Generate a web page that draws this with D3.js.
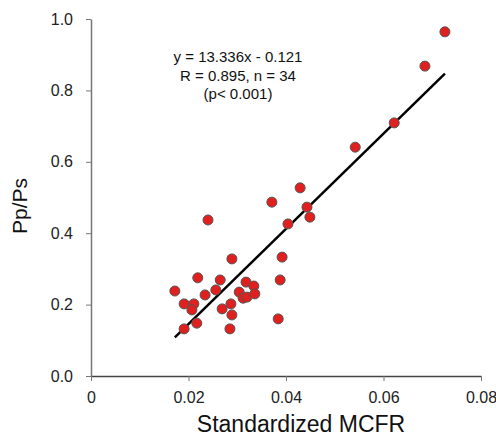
<!DOCTYPE html>
<html>
<head>
<meta charset="utf-8">
<script src="https://cdn.jsdelivr.net/npm/d3@7"></script>
<style>
  body { margin: 0; background: #fff; }
  svg { font-family: "Liberation Sans", Arial, sans-serif; }
</style>
</head>
<body>
<div id="chart"></div>
<script>
// data
var mcfr = [0.0289, 0.0219, 0.0265, 0.0172, 0.0234, 0.0256, 0.0318, 0.0334, 0.0304, 0.0312,
            0.0320, 0.0336, 0.0191, 0.0211, 0.0207, 0.0287, 0.0269, 0.0289, 0.0217, 0.0191,
            0.0285, 0.0429, 0.0371, 0.0443, 0.0449, 0.0404, 0.0392, 0.0240, 0.0388, 0.0384,
            0.0726, 0.0685, 0.0622, 0.0542];
var ppps = [0.328, 0.275, 0.269, 0.238, 0.227, 0.241, 0.263, 0.252, 0.235, 0.218,
            0.221, 0.230, 0.202, 0.202, 0.185, 0.202, 0.188, 0.171, 0.148, 0.132,
            0.132, 0.527, 0.487, 0.473, 0.445, 0.426, 0.333, 0.437, 0.269, 0.160,
            0.964, 0.868, 0.709, 0.641];
var xTicks = [0, 0.02, 0.04, 0.06, 0.08];
var xTickLabels = ["0", "0.02", "0.04", "0.06", "0.08"];
var yTicks = [0, 0.2, 0.4, 0.6, 0.8, 1.0];
var yTickLabels = ["0.0", "0.2", "0.4", "0.6", "0.8", "1.0"];
var slope = 13.336, intercept = -0.121;
var statLines = ["y = 13.336x - 0.121", "R = 0.895, n = 34", "(p< 0.001)"];

var width = 496, height = 438;
var margin = { left: 91, right: 15, top: 19, bottom: 62 };

var svg = d3.select("#chart").append("svg")
  .attr("width", width)
  .attr("height", height);

var x = d3.scaleLinear().domain([0, 0.08]).range([margin.left, width - margin.right]);
var y = d3.scaleLinear().domain([0, 1]).range([height - margin.bottom, margin.top]);

var axisColor = "#777";

// x axis
var gx = svg.append("g")
  .attr("transform", "translate(0," + y(0) + ")")
  .call(d3.axisBottom(x).tickValues(xTicks).tickFormat(function (d, i) { return xTickLabels[i]; })
    .tickSize(5).tickSizeOuter(0));
gx.select(".domain").attr("stroke", "#444").attr("stroke-width", 1.5);
gx.selectAll(".tick line").attr("stroke", axisColor);
gx.selectAll(".tick text").attr("font-size", 16).attr("fill", "#222").attr("dy", "1.2em");

// y axis
var gy = svg.append("g")
  .attr("transform", "translate(" + x(0) + ",0)")
  .call(d3.axisLeft(y).tickValues(yTicks).tickFormat(function (d, i) { return yTickLabels[i]; })
    .tickSize(5).tickSizeOuter(0));
gy.select(".domain").attr("stroke", axisColor).attr("stroke-width", 1.5);
gy.selectAll(".tick line").attr("stroke", axisColor);
gy.selectAll(".tick text").attr("font-size", 16).attr("fill", "#222").attr("x", -18);

// regression line over the data range
var xMin = d3.min(mcfr), xMax = d3.max(mcfr);
svg.append("line")
  .attr("x1", x(xMin)).attr("y1", y(slope * xMin + intercept))
  .attr("x2", x(xMax)).attr("y2", y(slope * xMax + intercept))
  .attr("stroke", "#000")
  .attr("stroke-width", 2.5);

// points
svg.append("g").selectAll("circle")
  .data(mcfr)
  .join("circle")
  .attr("cx", function (d) { return x(d); })
  .attr("cy", function (d, i) { return y(ppps[i]); })
  .attr("r", 5)
  .attr("fill", "#e0201e")
  .attr("stroke", "#555")
  .attr("stroke-width", 1);

// stats text
svg.append("g").selectAll("text")
  .data(statLines)
  .join("text")
  .attr("x", 238)
  .attr("y", function (d, i) { return 62 + i * 18.5; })
  .attr("text-anchor", "middle")
  .attr("font-size", 15)
  .attr("fill", "#111")
  .text(function (d) { return d; });

// axis titles
svg.append("text")
  .attr("x", 301)
  .attr("y", 432)
  .attr("text-anchor", "middle")
  .attr("font-size", 23)
  .attr("fill", "#111")
  .text("Standardized MCFR");

svg.append("text")
  .attr("transform", "translate(27,206) rotate(-90)")
  .attr("text-anchor", "middle")
  .attr("font-size", 21)
  .attr("fill", "#111")
  .text("Pp/Ps");
</script>
</body>
</html>
